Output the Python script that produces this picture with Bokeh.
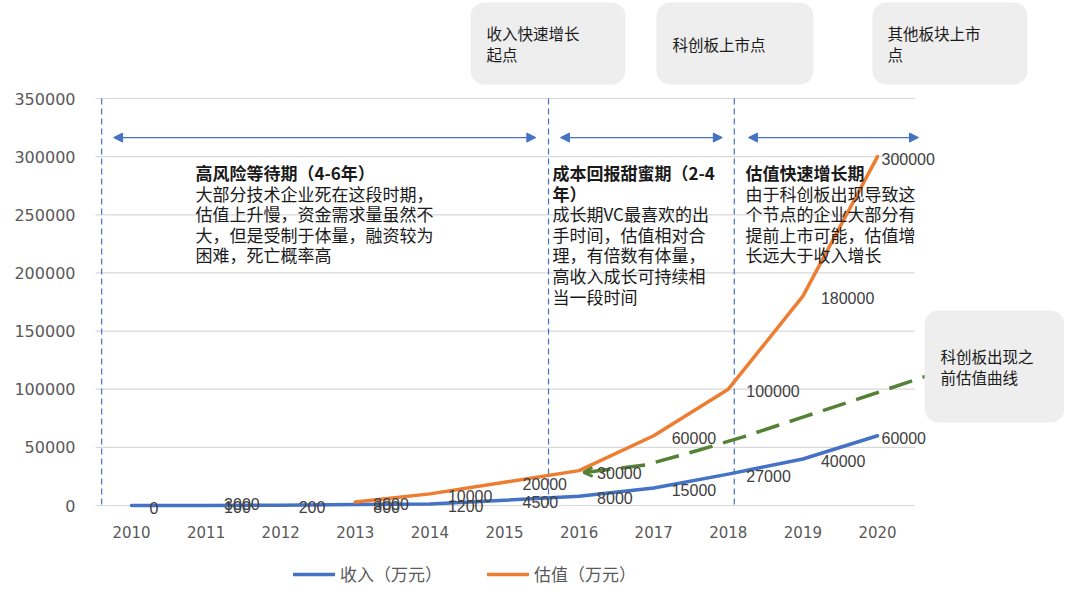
import math
from bokeh.plotting import figure
from bokeh.models import (ColumnDataSource, FixedTicker, Range1d, Arrow, NormalHead,
                          OpenHead, Legend, LegendItem)
from bokeh.core.properties import value
from bokeh.embed import file_html
from bokeh.resources import INLINE

# ---------------- data ----------------
years = [2010, 2011, 2012, 2013, 2014, 2015, 2016, 2017, 2018, 2019, 2020]
revenue = [0, 100, 200, 800, 1200, 4500, 8000, 15000, 27000, 40000, 60000]
valuation = [math.nan, 3000, math.nan, 3000, 10000, 20000, 30000, 60000, 100000, 180000, 300000]
# valuation curve before the STAR market (green dashed)
pre_star_x = [2016.1, 2016.9, 2017.6, 2018.2, 2019.0, 2019.9, 2020.78]
pre_star_y = [28500, 35000, 47500, 59000, 76000, 95000, 114000]
# phase boundaries (vertical dashed lines) and phase arrows
phase_lines = [2009.6, 2015.59, 2018.08]
phase_start = [2009.76, 2015.75, 2018.27]
phase_end = [2015.42, 2017.92, 2020.55]
phase_arrow_y = 316400
ytick_values = [0, 50000, 100000, 150000, 200000, 250000, 300000, 350000]

phase_titles = ["高风险等待期（4-6年）", "成本回报甜蜜期（2-4\n年）", "估值快速增长期"]
phase_bodies = [
    ["大部分技术企业死在这段时期，", "估值上升慢，资金需求量虽然不", "大，但是受制于体量，融资较为", "困难，死亡概率高"],
    ["成长期VC最喜欢的出", "手时间，估值相对合", "理，有倍数有体量，", "高收入成长可持续相", "当一段时间"],
    ["由于科创板出现导致这", "个节点的企业大部分有", "提前上市可能，估值增", "长远大于收入增长"],
]
box_texts = [["收入快速增长", "起点"], ["科创板上市点"], ["其他板块上市", "点"], ["科创板出现之", "前估值曲线"]]
legend_labels = ["收入（万元）", "估值（万元）"]

# ---------------- layout helpers (canvas pixel -> data) ----------------
def px2x(px):
    return 2010 + (px - 131) / 74.6

def py2y(py):
    return (505 - py) * 350000 / 407

CJK = "Noto Sans CJK SC"
BLUE = "#4472C4"
ORANGE = "#ED7D31"
GREEN = "#548235"
W, H = 1064, 592
FRAME_LEFT = 95

p = figure(width=W, height=H, output_backend="svg", toolbar_location=None,
           x_range=Range1d(px2x(FRAME_LEFT), px2x(W)), y_range=Range1d(py2y(H), py2y(0)),
           min_border_left=FRAME_LEFT, min_border_right=0, min_border_top=0, min_border_bottom=0)
p.outline_line_color = None
p.xgrid.visible = False
p.ygrid.visible = False
p.background_fill_color = "white"

# axes
p.yaxis.ticker = FixedTicker(ticks=ytick_values)
p.xaxis.ticker = FixedTicker(ticks=years)
for ax in (p.xaxis, p.yaxis):
    ax.axis_line_color = None
    ax.major_tick_line_color = None
    ax.minor_tick_line_color = None
    ax.major_tick_out = 0
    ax.minor_tick_out = 0
    ax.major_label_text_color = "#595959"
    ax.major_label_text_font = "DejaVu Sans"
p.yaxis.major_label_text_font_size = "16px"
p.xaxis.major_label_text_font_size = "15px"
p.yaxis.major_label_standoff = 20
p.yaxis.formatter.use_scientific = False
p.xaxis.fixed_location = 0
p.xaxis.major_label_standoff = 20

# horizontal grid lines across the category area
p.segment(x0=[years[0] - 0.5] * len(ytick_values), x1=[years[-1] + 0.5] * len(ytick_values),
          y0=ytick_values, y1=ytick_values, line_color="#D9D9D9", line_width=1.2)

# phase boundary dashed lines
p.segment(x0=phase_lines, x1=phase_lines, y0=[ytick_values[-1]] * 3, y1=[0] * 3,
          line_color=BLUE, line_width=1.2, line_dash="6 4")

# phase double arrows
arr_src = ColumnDataSource(dict(x0=phase_start, x1=phase_end, y=[phase_arrow_y] * 3))
p.add_layout(Arrow(source=arr_src, x_start="x0", y_start="y", x_end="x1", y_end="y",
                   line_color=BLUE, line_width=1.2,
                   start=NormalHead(size=9, fill_color=BLUE, line_color=BLUE),
                   end=NormalHead(size=9, fill_color=BLUE, line_color=BLUE)))

# series lines
rev_r = p.line(years, revenue, line_color=BLUE, line_width=3.5, line_join="round", line_cap="round")
val_r = p.line(years, valuation, line_color=ORANGE, line_width=3.5, line_join="round", line_cap="round")

# pre-STAR valuation curve
p.line(pre_star_x, pre_star_y, line_color=GREEN, line_width=3.5, line_dash="24 11")
p.add_layout(Arrow(x_start=pre_star_x[0] + 0.2, y_start=pre_star_y[0] + 600,
                   x_end=pre_star_x[0] - 0.04, y_end=pre_star_y[0],
                   line_alpha=0, end=OpenHead(size=9, line_color=GREEN, line_width=3)))

# data labels
def label_source(vals):
    xs, ys, ts, dx = [], [], [], []
    for yr, v in zip(years, vals):
        if v is None or (isinstance(v, float) and math.isnan(v)):
            continue
        xs.append(yr); ys.append(v); ts.append(str(int(v)))
        dx.append(4 if yr == years[-1] else 18)
    return ColumnDataSource(dict(x=xs, y=ys, t=ts, dx=dx))

for vals in (revenue, valuation):
    p.text(x="x", y="y", text="t", source=label_source(vals), x_offset="dx", y_offset=2,
           text_baseline="middle", text_align="left", text_font=value("Liberation Sans"),
           text_font_size="16px", text_color="#404040")

# phase descriptions
phase_x = [px2x(195), px2x(552), px2x(745)]
line_step = 20.6
for i in range(3):
    title_lines = phase_titles[i].split("\n")
    n_t = len(title_lines)
    y0 = py2y(172)
    p.text(x=[phase_x[i]] * n_t, y=[y0] * n_t, text=title_lines,
           y_offset=[k * line_step for k in range(n_t)],
           text_baseline="middle", text_font=value(CJK), text_font_size="17px",
           text_font_style="bold", text_color="#1a1a1a")
    body = phase_bodies[i]
    p.text(x=[phase_x[i]] * len(body), y=[y0] * len(body), text=body,
           y_offset=[(n_t + k) * line_step for k in range(len(body))],
           text_baseline="middle", text_font=value(CJK), text_font_size="17px",
           text_color="#1a1a1a")

# callout boxes
box_px = [(470, 625, 2, 84), (656, 813, 2, 84), (872, 1027, 2, 84), (924, 1064, 310, 422)]
p.quad(left=[px2x(b[0]) for b in box_px], right=[px2x(b[1]) for b in box_px],
       top=[py2y(b[2]) for b in box_px], bottom=[py2y(b[3]) for b in box_px],
       fill_color="#EEEEEE", line_color=None, border_radius=14)
box_text_pos = [(486, 32), (672, 43), (887, 32), (940, 355)]
for (bx, by), lines in zip(box_text_pos, box_texts):
    p.text(x=[px2x(bx)] * len(lines), y=[py2y(by)] * len(lines), text=lines,
           y_offset=[k * 21 for k in range(len(lines))],
           text_baseline="middle", text_font=value(CJK), text_font_size="15.5px",
           text_color="#1a1a1a")

# legend below the chart
legend = Legend(items=[LegendItem(label=legend_labels[0], renderers=[rev_r]),
                       LegendItem(label=legend_labels[1], renderers=[val_r])],
                orientation="horizontal", location=(293 - FRAME_LEFT, H - 586), padding=0, margin=0,
                spacing=45, glyph_width=42, glyph_height=20, label_standoff=5,
                label_text_font=CJK, label_text_font_size="17px", label_text_color="#595959",
                border_line_color=None, background_fill_alpha=0)
p.add_layout(legend)

open("out.html", "w").write(file_html(p, INLINE))
